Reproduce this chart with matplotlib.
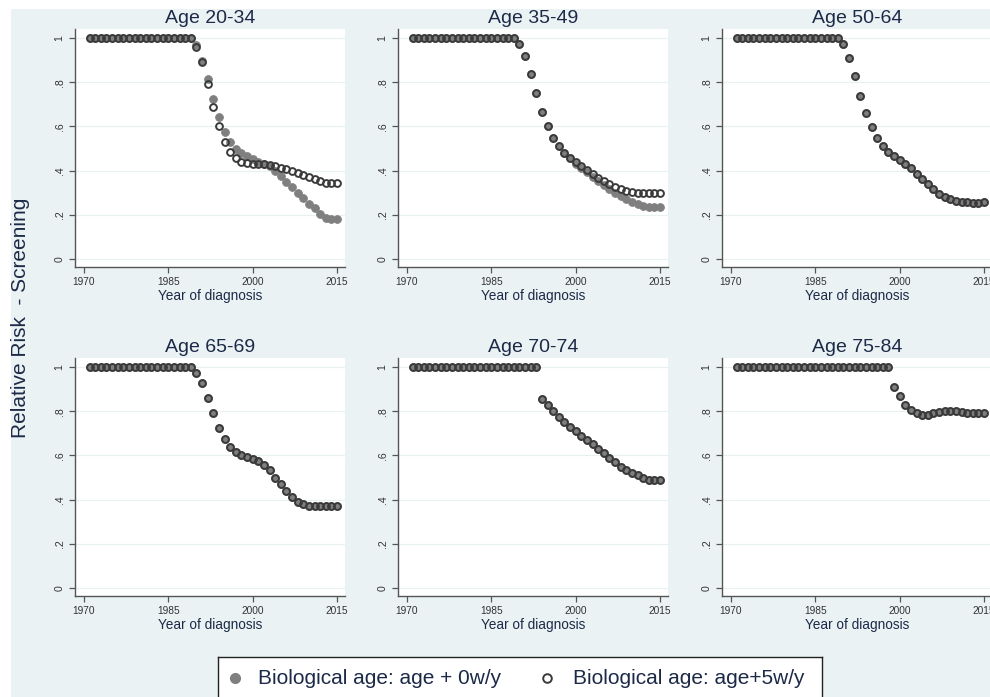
import matplotlib
matplotlib.use("Agg")
import matplotlib.pyplot as plt
from matplotlib.patches import Rectangle

plt.rcParams['font.family'] = ['Liberation Sans', 'DejaVu Sans']

years = list(range(1971, 2016))

panel_titles = ["Age 20-34", "Age 35-49", "Age 50-64", "Age 65-69", "Age 70-74", "Age 75-84"]

ba0_20_34 = [1.0] * 19 + [0.967, 0.894, 0.816, 0.725, 0.642, 0.577, 0.530, 0.500, 0.480, 0.467,
                          0.452, 0.440, 0.430, 0.420, 0.400, 0.375, 0.350, 0.325, 0.300, 0.275,
                          0.250, 0.230, 0.205, 0.185, 0.183, 0.183]
ba5_20_34 = [1.0] * 19 + [0.960, 0.890, 0.790, 0.687, 0.600, 0.530, 0.483, 0.456, 0.440, 0.434,
                          0.430, 0.430, 0.428, 0.425, 0.420, 0.413, 0.406, 0.400, 0.390, 0.381,
                          0.372, 0.364, 0.355, 0.345, 0.342, 0.342]

ba0_35_49 = [1.0] * 19 + [0.974, 0.917, 0.836, 0.750, 0.667, 0.600, 0.550, 0.510, 0.480, 0.455,
                          0.432, 0.412, 0.393, 0.373, 0.354, 0.335, 0.318, 0.300, 0.285, 0.271,
                          0.259, 0.249, 0.241, 0.236, 0.234, 0.234]
ba5_35_49 = [1.0] * 19 + [0.974, 0.917, 0.836, 0.750, 0.667, 0.600, 0.550, 0.510, 0.481, 0.458,
                          0.437, 0.420, 0.402, 0.385, 0.367, 0.352, 0.338, 0.326, 0.316, 0.309,
                          0.304, 0.301, 0.300, 0.299, 0.299, 0.299]

ba0_50_64 = [1.0] * 19 + [0.974, 0.910, 0.830, 0.740, 0.662, 0.598, 0.550, 0.512, 0.485, 0.465,
                          0.447, 0.430, 0.410, 0.385, 0.360, 0.340, 0.315, 0.295, 0.280, 0.270,
                          0.263, 0.259, 0.256, 0.255, 0.255, 0.260]
ba5_50_64 = list(ba0_50_64)

ba0_65_69 = [1.0] * 19 + [0.974, 0.930, 0.860, 0.790, 0.724, 0.673, 0.638, 0.615, 0.600, 0.593,
                          0.585, 0.573, 0.555, 0.532, 0.500, 0.470, 0.437, 0.410, 0.390, 0.380,
                          0.373, 0.372, 0.372, 0.372, 0.373, 0.373]
ba5_65_69 = list(ba0_65_69)

ba0_70_74 = [1.0] * 23 + [0.857, 0.827, 0.800, 0.774, 0.750, 0.728, 0.710, 0.690, 0.670, 0.650,
                          0.630, 0.610, 0.590, 0.570, 0.550, 0.535, 0.520, 0.510, 0.500, 0.490,
                          0.490, 0.490]
ba5_70_74 = list(ba0_70_74)

ba0_75_84 = [1.0] * 28 + [0.910, 0.868, 0.830, 0.807, 0.790, 0.783, 0.783, 0.790, 0.795, 0.800,
                          0.800, 0.800, 0.797, 0.793, 0.790, 0.790, 0.790]
ba5_75_84 = list(ba0_75_84)

series0 = [ba0_20_34, ba0_35_49, ba0_50_64, ba0_65_69, ba0_70_74, ba0_75_84]
series5 = [ba5_20_34, ba5_35_49, ba5_50_64, ba5_65_69, ba5_70_74, ba5_75_84]

xticks = [1970, 1985, 2000, 2015]
yticks = [0, 0.2, 0.4, 0.6, 0.8, 1.0]
ytick_labels = ["0", ".2", ".4", ".6", ".8", "1"]
legend_labels = ["Biological age: age + 0w/y", "Biological age: age+5w/y"]

W, H = 990, 697
fig = plt.figure(figsize=(W / 100, H / 100), dpi=100)
fig.patch.set_facecolor("white")

BG = "#eaf2f3"
TXT = "#1c2a48"
bg = Rectangle((11 / W, 0), 1 - 11 / W, 1 - 9 / H, transform=fig.transFigure,
               facecolor=BG, edgecolor="none", zorder=-10)
fig.add_artist(bg)


def px_axes(left, top, width, height):
    return fig.add_axes([left / W, 1 - (top + height) / H, width / W, height / H])


lefts = [75, 398, 722]
tops = [29, 358]
aw, ah = 270, 238

FILL = "#7f7f7f"
RING = "#3a3a3a"

for i in range(6):
    r, c = divmod(i, 3)
    ax = px_axes(lefts[c], tops[r], aw, ah)
    ax.set_facecolor("white")
    ax.set_xlim(1968.4, 2016.42)
    ax.set_ylim(-0.036, 1.041)
    for yv in yticks:
        ax.axhline(yv, color="#e9f0f2", lw=0.9, zorder=0)
    ax.plot(years, series0[i], linestyle="none", marker="o", markersize=5.6,
            markerfacecolor=FILL, markeredgecolor=FILL, markeredgewidth=0.6, zorder=2)
    ax.plot(years, series5[i], linestyle="none", marker="o", markersize=4.9,
            markerfacecolor="none", markeredgecolor=RING, markeredgewidth=1.4, zorder=3)
    ax.set_xticks(xticks)
    ax.set_xticklabels([str(x) for x in xticks], fontsize=7.3, color="#333333")
    ax.set_yticks(yticks)
    ax.set_yticklabels(ytick_labels, fontsize=7.6, color="#333333", rotation=90, va="center")
    for s in ["top", "right"]:
        ax.spines[s].set_visible(False)
    for s in ["left", "bottom"]:
        ax.spines[s].set_color("#555555")
        ax.spines[s].set_linewidth(1.0)
    ax.tick_params(axis="both", direction="out", length=4.5, width=0.9, color="#555555", pad=3)
    ax.set_xlabel("Year of diagnosis", fontsize=9.8, color=TXT, labelpad=1)
    ax.set_title(panel_titles[i], fontsize=14, color=TXT, pad=4)

fig.text(21 / W, 1 - 318 / H, "Relative Risk  - Screening", rotation=90, ha="center", va="center",
         fontsize=15, color=TXT)

# legend box
lax = px_axes(218, 657, 604, 60)
lax.set_xlim(0, 604)
lax.set_ylim(60, 0)
lax.set_facecolor("white")
for s in lax.spines.values():
    s.set_color("#222222")
    s.set_linewidth(1.0)
lax.set_xticks([])
lax.set_yticks([])
lax.plot([17], [21], marker="o", linestyle="none", markersize=7.0,
         markerfacecolor=FILL, markeredgecolor=FILL)
lax.text(40, 21, legend_labels[0], fontsize=15, color=TXT, va="center", ha="left")
lax.plot([329], [21], marker="o", linestyle="none", markersize=6.2,
         markerfacecolor="none", markeredgecolor=RING, markeredgewidth=1.4)
lax.text(355, 21, legend_labels[1], fontsize=15, color=TXT, va="center", ha="left")

fig.savefig("out.png", dpi=100, facecolor=fig.get_facecolor())
